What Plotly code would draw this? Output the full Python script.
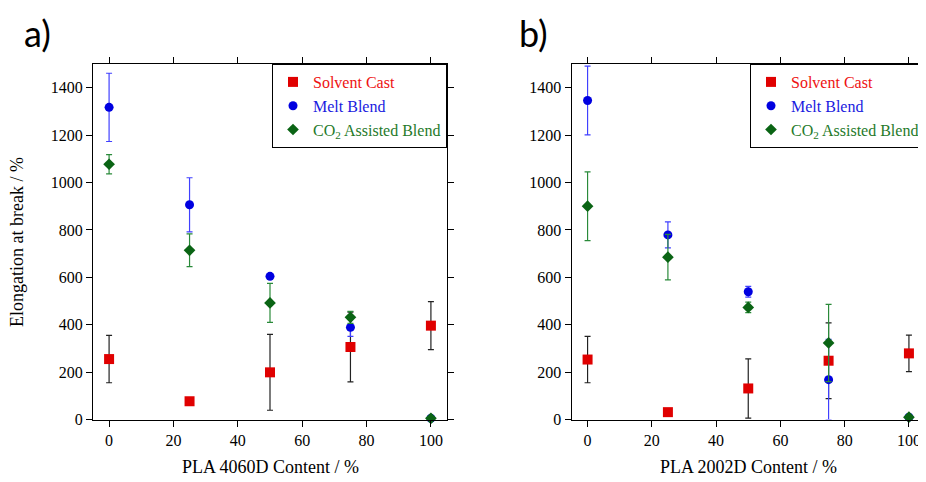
import plotly.graph_objects as go

# page body adds an 8px margin; build the figure to fill the visible window
OX, OY = 8, 8
W, H = 926 - OX, 482 - OY

x_content = [0, 25, 50, 75, 100]

# Panel a: PLA 4060D
a_solvent = [255, 77, 199, 306, 396]
a_solvent_err = [100, 0, 160, 147, 101]
a_melt = [1317, 906, 604, 389, 5]
a_melt_err = [144, 114, 0, 38, 0]
a_co2 = [1077, 714, 492, 431, 5]
a_co2_err = [41, 69, 82, 25, 0]

# Panel b: PLA 2002D
b_solvent = [253, 31, 131, 248, 279]
b_solvent_err = [98, 0, 125, 160, 77]
b_melt = [1346, 779, 539, 168, 10]
b_melt_err = [145, 55, 23, 170, 0]
b_co2 = [900, 685, 473, 323, 10]
b_co2_err = [145, 96, 22, 163, 0]

x_ticks = [0, 20, 40, 60, 80, 100]
y_ticks = [0, 200, 400, 600, 800, 1000, 1200, 1400]

names = ["Solvent Cast", "Melt Blend", "CO<sub>2</sub> Assisted Blend"]
RED, BLUE, GREEN = "#e00000", "#0000e0", "#0a6414"
TXT = ["#ee1111", "#1a1ae0", "#1f7a2a"]
ERR = ["#222222", "#4040ff", "#2a8a3a"]
SYM = ["square", "circle", "diamond"]
SIZE = [10, 9, 9]
MCOL = [RED, BLUE, GREEN]

SERIF = "Liberation Serif"

def px(x):
    return (x - OX) / W

def py(y):
    return 1 - (y - OY) / H

fig = go.Figure()

panels = [
    ("x", "y", "legend", [(a_solvent, a_solvent_err), (a_melt, a_melt_err), (a_co2, a_co2_err)]),
    ("x2", "y2", "legend2", [(b_solvent, b_solvent_err), (b_melt, b_melt_err), (b_co2, b_co2_err)]),
]
for xa, ya, lg, series in panels:
    for i, (vals, errs) in enumerate(series):
        fig.add_trace(go.Scatter(
            x=x_content, y=vals, mode="markers",
            name='<span style="color:%s">%s</span>' % (TXT[i], names[i]),
            marker=dict(symbol=SYM[i], size=SIZE[i], color=MCOL[i]),
            error_y=dict(type="data", array=errs, visible=True, color=ERR[i],
                         thickness=1.2, width=3),
            xaxis=xa, yaxis=ya, legend=lg, cliponaxis=False,
        ))

axis_common = dict(
    showgrid=False, zeroline=False, showline=True, linecolor="black", linewidth=1,
    mirror="ticks", ticks="outside", ticklen=6, tickcolor="black", tickwidth=1,
    tickfont=dict(family=SERIF, size=16, color="black"),
)

y_top, y_bot = 64, 419.5
fig.update_layout(
    width=W, height=H,
    margin=dict(l=0, r=0, t=0, b=0, autoexpand=False),
    paper_bgcolor="white", plot_bgcolor="white",
    showlegend=True,
    xaxis=dict(domain=[px(93), px(447)], range=[-5, 105], tickvals=x_ticks,
               anchor="y", **axis_common),
    yaxis=dict(domain=[py(y_bot), py(y_top)], range=[0, 1500], tickvals=y_ticks,
               anchor="x", **axis_common),
    xaxis2=dict(domain=[px(571.5), px(925)], range=[-5, 105], tickvals=x_ticks,
                anchor="y2", **axis_common),
    yaxis2=dict(domain=[py(y_bot), py(y_top)], range=[0, 1500], tickvals=y_ticks,
                anchor="x2", **axis_common),
    legend=dict(x=px(447), xanchor="right", y=py(y_top), yanchor="top",
                bordercolor="black", borderwidth=1, bgcolor="white",
                font=dict(family=SERIF, size=16), tracegroupgap=0),
    legend2=dict(x=px(925), xanchor="right", y=py(y_top), yanchor="top",
                 bordercolor="black", borderwidth=1, bgcolor="white",
                 font=dict(family=SERIF, size=16), tracegroupgap=0),
)

ann = [
    dict(text="a)", x=px(37), y=py(33), font=dict(family="Lato", size=36, color="black")),
    dict(text="b)", x=px(533), y=py(33), font=dict(family="Lato", size=36, color="black")),
    dict(text="Elongation at break / %", x=px(17), y=py(242), textangle=-90,
         font=dict(family=SERIF, size=18, color="black")),
    dict(text="PLA 4060D Content / %", x=px(270), y=py(467),
         font=dict(family=SERIF, size=18, color="black")),
    dict(text="PLA 2002D Content / %", x=px(748), y=py(467),
         font=dict(family=SERIF, size=18, color="black")),
]
for a in ann:
    fig.add_annotation(xref="paper", yref="paper", showarrow=False,
                       xanchor="center", yanchor="middle", **a)

fig.write_html("out.html")
